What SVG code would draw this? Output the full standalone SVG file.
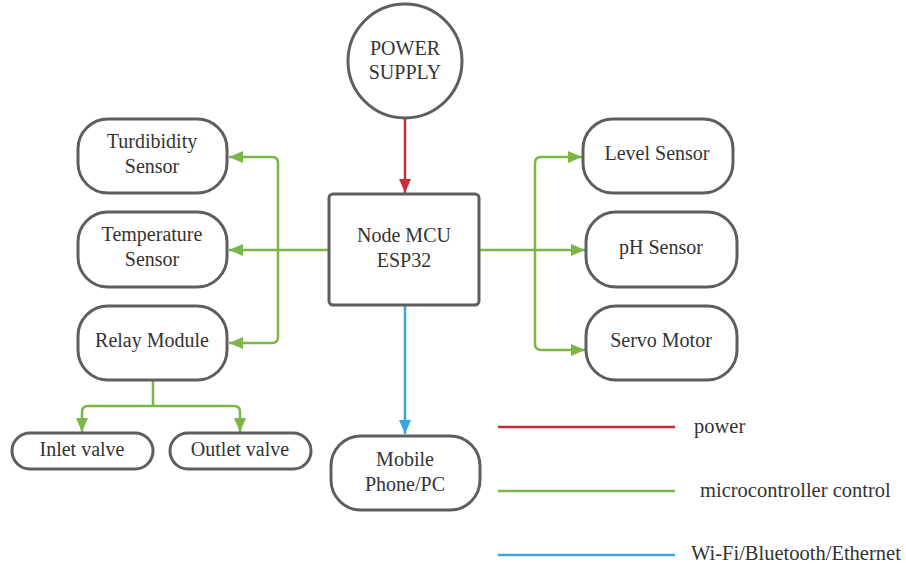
<svg xmlns="http://www.w3.org/2000/svg" width="906" height="567" viewBox="0 0 906 567">
<style>
.n{fill:#fff;stroke:#5e5e5e;stroke-width:3}
.t{font-family:"Liberation Serif","Times New Roman",serif;font-size:20px;fill:#333;text-anchor:middle}
.l{font-family:"Liberation Serif","Times New Roman",serif;font-size:20.5px;fill:#333}
.g{fill:none;stroke:#7ab648;stroke-width:2.5}
.r{fill:none;stroke:#c92d39;stroke-width:2.5}
.b{fill:none;stroke:#3aa6dd;stroke-width:2.5}
</style>
<defs>
<marker id="ag" viewBox="0 0 14 12" refX="14" refY="6" markerWidth="14" markerHeight="12" markerUnits="userSpaceOnUse" orient="auto"><path d="M0,0L14,6L0,12Z" fill="#7ab648"/></marker>
<marker id="ar" viewBox="0 0 14 12" refX="14" refY="6" markerWidth="14" markerHeight="12" markerUnits="userSpaceOnUse" orient="auto"><path d="M0,0L14,6L0,12Z" fill="#c92d39"/></marker>
<marker id="ab" viewBox="0 0 14 12" refX="14" refY="6" markerWidth="14" markerHeight="12" markerUnits="userSpaceOnUse" orient="auto"><path d="M0,0L14,6L0,12Z" fill="#3aa6dd"/></marker>
</defs>
<g id="connectors">
<path class="r" d="M405,119V193" marker-end="url(#ar)"/>
<path class="b" d="M405,306V434" marker-end="url(#ab)"/>
<path class="g" d="M328,250H278"/>
<path class="g" d="M278,250V163Q278,157 272,157H229" marker-end="url(#ag)"/>
<path class="g" d="M278,250H229" marker-end="url(#ag)"/>
<path class="g" d="M278,250V337Q278,343 272,343H229" marker-end="url(#ag)"/>
<path class="g" d="M480,250H535"/>
<path class="g" d="M535,250V163Q535,157 541,157H582" marker-end="url(#ag)"/>
<path class="g" d="M535,250H585" marker-end="url(#ag)"/>
<path class="g" d="M535,250V344Q535,350 541,350H585" marker-end="url(#ag)"/>
<path class="g" d="M153,381V406"/>
<path class="g" d="M153,406H88Q82,406 82,412V432" marker-end="url(#ag)"/>
<path class="g" d="M153,406H234Q240,406 240,412V432" marker-end="url(#ag)"/>
</g>
<g id="power-supply"><circle class="n" cx="405" cy="61" r="57"/><text class="t" x="405" y="55">POWER</text><text class="t" x="405" y="79">SUPPLY</text></g>
<g id="mcu"><rect class="n" x="329" y="194" width="150" height="111" rx="4"/><text class="t" x="404" y="242">Node MCU</text><text class="t" x="404" y="267">ESP32</text></g>
<g id="turbidity"><rect class="n" x="78" y="119" width="149" height="74" rx="30"/><text class="t" x="152" y="148">Turdibidity</text><text class="t" x="152" y="173">Sensor</text></g>
<g id="temperature"><rect class="n" x="78" y="212" width="149" height="75" rx="30"/><text class="t" x="152" y="241">Temperature</text><text class="t" x="152" y="266">Sensor</text></g>
<g id="relay"><rect class="n" x="78" y="306" width="149" height="74" rx="30"/><text class="t" x="152" y="347">Relay Module</text></g>
<g id="inlet"><rect class="n" x="12" y="433" width="141" height="36" rx="18"/><text class="t" x="82" y="456">Inlet valve</text></g>
<g id="outlet"><rect class="n" x="170" y="433" width="141" height="36" rx="18"/><text class="t" x="240" y="456">Outlet valve</text></g>
<g id="level"><rect class="n" x="583" y="119" width="150" height="74" rx="30"/><text class="t" x="657" y="160">Level Sensor</text></g>
<g id="ph"><rect class="n" x="586" y="212" width="151" height="75" rx="30"/><text class="t" x="661" y="254">pH Sensor</text></g>
<g id="servo"><rect class="n" x="586" y="306" width="151" height="74" rx="30"/><text class="t" x="661" y="347">Servo Motor</text></g>
<g id="mobile"><rect class="n" x="331" y="436" width="149" height="74" rx="30"/><text class="t" x="405" y="466">Mobile</text><text class="t" x="405" y="491">Phone/PC</text></g>
<g id="legend">
<path class="r" d="M498,427H675"/><text class="l" x="694" y="433">power</text>
<path class="g" d="M498,491H675"/><text class="l" x="700" y="497">microcontroller control</text>
<path class="b" d="M498,555H675"/><text class="l" x="691" y="560">Wi-Fi/Bluetooth/Ethernet</text>
</g>
</svg>
